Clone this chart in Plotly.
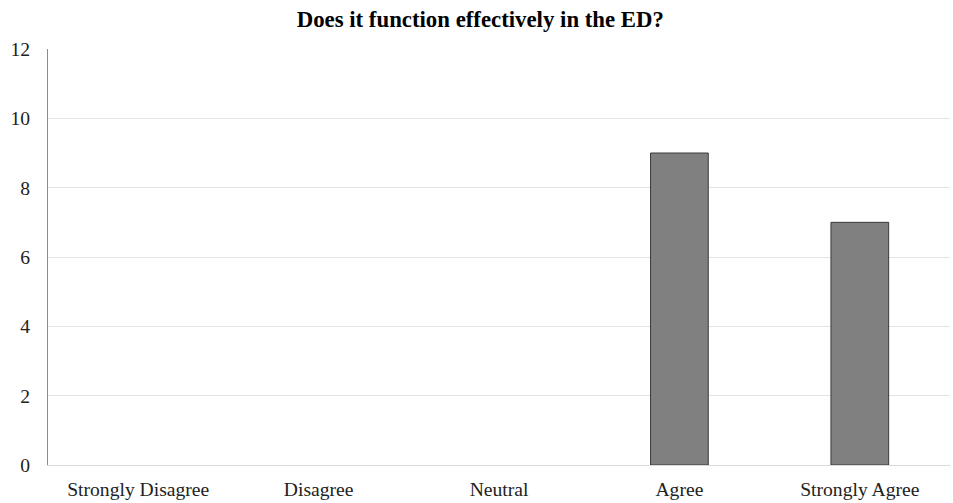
import plotly.graph_objects as go

categories = ["Strongly Disagree", "Disagree", "Neutral", "Agree", "Strongly Agree"]
values = [0, 0, 0, 9, 7]
y_ticks = [0, 2, 4, 6, 8, 10, 12]
title_text = "Does it function effectively in the ED?"

outline_widths = [1 if v > 0 else 0 for v in values]

fig = go.Figure(go.Bar(
    x=categories, y=values,
    marker=dict(color="#808080", line=dict(color="#3a3a3a", width=outline_widths)),
))

fig.update_layout(
    width=953, height=503,
    margin=dict(l=48, r=3, t=49, b=38),
    paper_bgcolor="white", plot_bgcolor="white",
    bargap=0.68,
    showlegend=False,
    font=dict(family="Liberation Serif", size=19.6, color="#222222"),
    title=dict(text="<b>" + title_text + "</b>", x=0.504, xanchor="center",
               y=0.962, yanchor="middle",
               font=dict(family="Liberation Serif", size=22.8, color="#000000")),
)
fig.update_xaxes(showgrid=False, showline=True, linecolor="#d9d9d9", linewidth=1,
                 ticks="", ticklabelstandoff=6, automargin=False,
                 tickfont=dict(size=19.6, color="#222222"))
fig.update_yaxes(range=[0, 12], tickvals=y_ticks, showgrid=True, gridcolor="#e3e3e3",
                 gridwidth=1, showline=True, linecolor="#8c8c8c", linewidth=1,
                 zeroline=False, ticks="", ticklabelstandoff=13, automargin=False,
                 tickfont=dict(size=19.6, color="#222222"))

fig.write_html("out.html")
